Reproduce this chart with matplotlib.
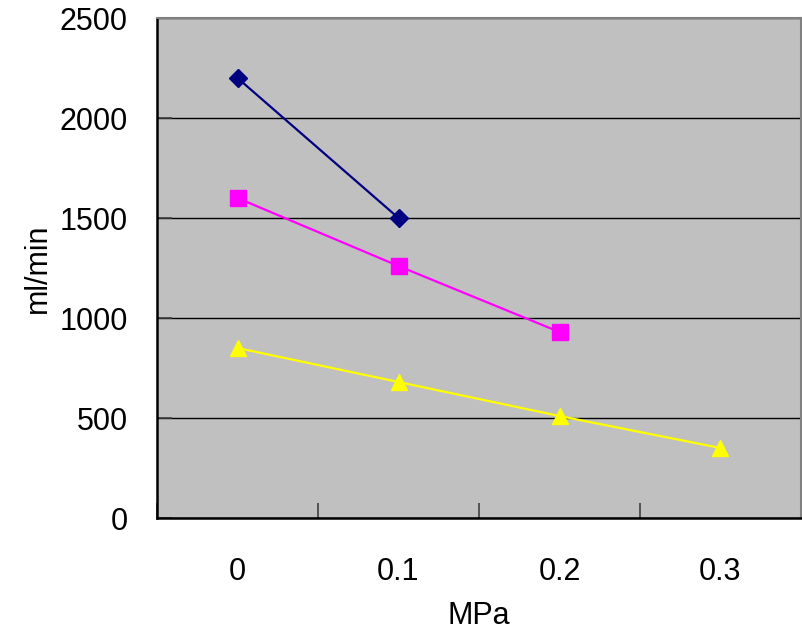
import matplotlib.pyplot as plt
import numpy as np

plt.rcParams['font.family'] = ['Liberation Sans', 'DejaVu Sans']

# 数据
categories = ['0', '0.1', '0.2', '0.3']
series_navy = [2200, 1500]
series_magenta = [1600, 1260, 930]
series_yellow = [850, 680, 510, 350]
y_ticks = [0, 500, 1000, 1500, 2000, 2500]

fig = plt.figure(figsize=(8.02, 6.32), dpi=100)
ax = fig.add_axes([157 / 802, 114 / 632, 644 / 802, 500 / 632])
ax.set_facecolor('#C0C0C0')

x = np.arange(len(categories))
ax.plot(x[:len(series_navy)], series_navy, color='#000080', marker='D',
        markersize=9.5, linewidth=1.6)
ax.plot(x[:len(series_magenta)], series_magenta, color='#FF00FF', marker='s',
        markersize=11, linewidth=1.6)
ax.plot(x[:len(series_yellow)], series_yellow, color='#FFFF00', marker='^',
        markersize=11, linewidth=1.6)

ax.set_xlim(-0.5, len(categories) - 0.5)
ax.set_ylim(0, 2500)
ax.set_yticks(y_ticks)
ax.yaxis.grid(True, color='black', linewidth=1.0)
ax.set_axisbelow(True)

# 类别刻度线在分界处，标签在中间
ax.set_xticks(np.arange(-0.5, len(categories), 1.0))
ax.set_xticklabels([])
ax.set_xticks(x, minor=True)
ax.set_xticklabels(categories, minor=True)
ax.tick_params(axis='x', which='major', direction='in', length=11,
               width=1.2, color='#404040')
ax.tick_params(axis='x', which='minor', length=0, pad=28, labelsize=22)
ax.tick_params(axis='y', direction='in', length=11, width=1.2,
               color='#404040', pad=21, labelsize=22)

for side in ['left', 'bottom']:
    ax.spines[side].set_color('black')
    ax.spines[side].set_linewidth(1.8)
for side in ['top', 'right']:
    ax.spines[side].set_color('#808080')
    ax.spines[side].set_linewidth(1.5)

ax.set_xlabel('MPa', fontsize=22, labelpad=10)
ax.set_ylabel('ml/min', fontsize=22, labelpad=5)

plt.savefig('out.png', dpi=100)
